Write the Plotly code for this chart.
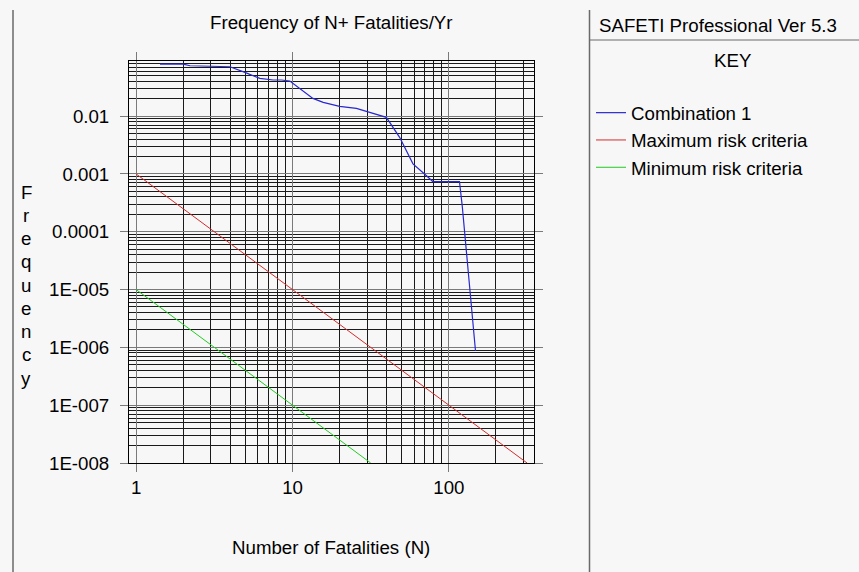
import numpy as np
import plotly.graph_objects as go

# ---------------- data ----------------
comb_n = [1.42, 2.00, 2.21, 3.98, 4.96, 6.18, 7.52, 8.51, 9.61, 11.1, 13.5, 15.7,
          20.0, 25.6, 31.1, 39.8, 48.4, 58.9, 71.6, 78.9, 116.8, 121.6, 147.9]
comb_f = [0.0797, 0.0797, 0.0745, 0.0716, 0.0571, 0.0450, 0.0422, 0.0422, 0.0404,
          0.0299, 0.0203, 0.0173, 0.01477, 0.01364, 0.01163, 0.00953, 0.00430,
          0.001494, 0.000938, 0.000740, 0.000740, 0.000284, 8.67e-7]

max_n = [1, 316.2]
max_f = [1e-3, 1e-8]
min_n = [1, 31.62]
min_f = [1e-5, 1e-8]

x_major = [1, 10, 100]
x_major_text = ["1", "10", "100"]
y_major = [1e-8, 1e-7, 1e-6, 1e-5, 1e-4, 1e-3, 1e-2]
y_major_text = ["1E-008", "1E-007", "1E-006", "1E-005", "0.0001", "0.001", "0.01"]

x_minor = [k * 10 ** d for d in range(0, 3) for k in range(2, 10) if k * 10 ** d <= 350]
y_minor = [k * 10.0 ** d for d in range(-8, -1) for k in range(2, 10)]

# ---------------- layout geometry ----------------
W, H = 859, 572
L, R, T, B = 129, 534, 61, 463   # plot area in pixels


def px(x):
    return (x - L) / (R - L)


def py(y):
    return (B - y) / (B - T)


FONT = "Liberation Sans, Arial, sans-serif"
FS = 18.7
BG = "#f7f7f7"

fig = go.Figure()
fig.add_trace(go.Scatter(x=comb_n, y=comb_f, mode="lines", name="Combination 1",
                         line=dict(color="#2828d0", width=1.2)))
fig.add_trace(go.Scatter(x=max_n, y=max_f, mode="lines", name="Maximum risk criteria",
                         line=dict(color="#d42c2c", width=1)))
fig.add_trace(go.Scatter(x=min_n, y=min_f, mode="lines", name="Minimum risk criteria",
                         line=dict(color="#22cc22", width=1)))

axis_common = dict(
    type="log", showline=True, linecolor="#000000", linewidth=1, mirror="ticks",
    ticks="outside", ticklen=8, tickcolor="#7a7a7a", tickwidth=1,
    showgrid=True, gridcolor="#7a7a7a", gridwidth=1, zeroline=False,
    tickfont=dict(family=FONT, size=FS, color="#000000"),
)

fig.update_layout(
    width=W, height=H,
    margin=dict(l=L, r=W - R, t=T, b=H - B, pad=0),
    paper_bgcolor=BG, plot_bgcolor=BG,
    font=dict(family=FONT, size=FS, color="#000000"),
    showlegend=True,
    legend=dict(x=px(591), y=py(94), xanchor="left", yanchor="top",
                bgcolor="rgba(0,0,0,0)", borderwidth=0, tracegroupgap=0,
                font=dict(family=FONT, size=FS, color="#000000")),
    xaxis=dict(axis_common, range=[np.log10(0.9), np.log10(350)],
               tickvals=x_major, ticktext=x_major_text, ticklabelstandoff=0,
               minor=dict(tickvals=x_minor, showgrid=True, gridcolor="#1a1a1a",
                          gridwidth=1, ticks="")),
    yaxis=dict(axis_common, range=[-8, np.log10(0.09)],
               tickvals=y_major, ticktext=y_major_text, ticklabelstandoff=7,
               minor=dict(tickvals=y_minor, showgrid=True, gridcolor="#1a1a1a",
                          gridwidth=1, ticks="")),
)

# frame lines of the report page
line_style = dict(color="#6a6a6a", width=1.5)
fig.add_shape(type="line", xref="paper", yref="paper", x0=px(13), x1=px(13),
              y0=py(10), y1=py(H), line=line_style)
fig.add_shape(type="line", xref="paper", yref="paper", x0=px(589.5), x1=px(589.5),
              y0=py(10), y1=py(H), line=line_style)
fig.add_shape(type="line", xref="paper", yref="paper", x0=px(589.5), x1=px(W),
              y0=py(40), y1=py(40), line=dict(color="#6a6a6a", width=1))

ann = dict(xref="paper", yref="paper", showarrow=False,
           font=dict(family=FONT, size=FS, color="#000000"))
fig.add_annotation(ann, text="Frequency of N+ Fatalities/Yr", x=px(331.5), y=py(22),
                   xanchor="center", yanchor="middle")
fig.add_annotation(ann, text="Number of Fatalities (N)", x=px(331), y=py(547),
                   xanchor="center", yanchor="middle")
for i, ch in enumerate("Frequency"):
    fig.add_annotation(ann, text=ch, x=px(26), y=py(192 + i * 23.25),
                       xanchor="center", yanchor="middle")
fig.add_annotation(ann, text="SAFETI Professional Ver 5.3", x=px(597), y=py(25.5),
                   xanchor="left", yanchor="middle")
fig.add_annotation(ann, text="KEY", x=px(733), y=py(60.5),
                   xanchor="center", yanchor="middle")

fig.write_html("out.html", config={"displayModeBar": False},
               post_script="document.body.style.margin='0px';")
